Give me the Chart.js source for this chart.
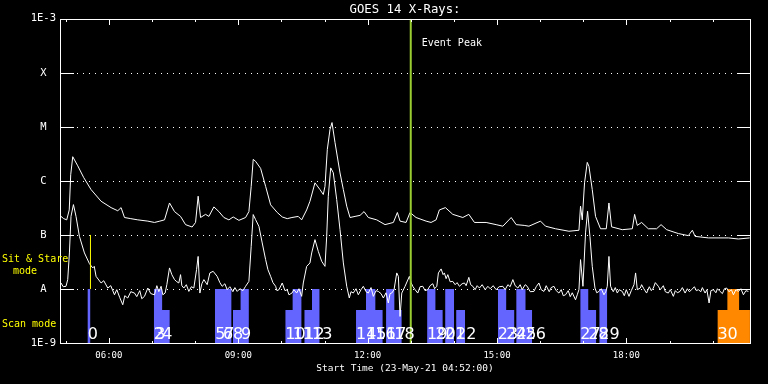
<!DOCTYPE html>
<html><head><meta charset="utf-8">
<script src="https://cdn.jsdelivr.net/npm/chart.js@4.4.1/dist/chart.umd.min.js"></script>
<style>html,body{margin:0;padding:0;background:#000;}canvas{display:block;}</style>
</head><body>
<canvas id="c" width="768" height="384"></canvas>
<script>
// ---------- data (time in decimal hours UT, flux in W/m^2) ----------
const X_START = 4 + 52 / 60;          // 04:52
const X_END = X_START + 16;
const xTickValues = [6, 9, 12, 15, 18];
const xTickLabels = ['06:00', '09:00', '12:00', '15:00', '18:00'];
const xMinorTickValues = [5, 7, 8, 10, 11, 13, 14, 16, 17, 19, 20];
const yTickValues = [1e-9, 1e-8, 1e-7, 1e-6, 1e-5, 1e-4, 1e-3];
const yTickLabels = ['1E-9', 'A', 'B', 'C', 'M', 'X', '1E-3'];

const eventPeakTime = 13.0;
const eventPeakLabel = 'Event Peak';
const sitStareTime = 5.573;
const sitStareRange = [1e-8, 1e-7];

// long channel (upper curve)
const longChannel = [
 [4.890,2.2e-7],[4.953,2.0e-7],[5.023,1.9e-7],[5.081,2.9e-7],[5.115,1.3e-6],[5.162,2.8e-6],[5.278,1.9e-6],[5.417,1.15e-6],[5.587,6.9e-7],[5.819,4.2e-7],
 [6.051,3.2e-7],[6.206,2.8e-7],[6.283,3.2e-7],[6.362,2.1e-7],[6.508,2.0e-7],[6.671,1.9e-7],[6.903,1.8e-7],[7.058,1.7e-7],[7.181,1.8e-7],[7.290,1.9e-7],
 [7.406,3.9e-7],[7.522,2.7e-7],[7.662,2.2e-7],[7.778,1.55e-7],[7.931,1.4e-7],[8.010,1.7e-7],[8.070,5.2e-7],[8.126,2.1e-7],[8.242,2.4e-7],[8.319,2.2e-7],
 [8.435,3.3e-7],[8.551,2.7e-7],[8.667,2.1e-7],[8.783,1.9e-7],[8.883,2.15e-7],[9.015,1.86e-7],[9.170,2.1e-7],[9.247,2.7e-7],[9.300,7.9e-7],[9.347,2.5e-6],
 [9.402,2.3e-6],[9.519,1.7e-6],[9.635,7.9e-7],[9.751,3.6e-7],[9.904,2.6e-7],[10.020,2.15e-7],[10.136,2.0e-7],[10.245,2.1e-7],[10.391,2.2e-7],[10.470,1.9e-7],
 [10.586,2.9e-7],[10.663,4.2e-7],[10.779,9.2e-7],[10.895,6.9e-7],[10.972,5.6e-7],[11.011,7.9e-7],[11.065,3.8e-6],[11.127,8.9e-6],[11.174,1.2e-5],[11.244,5.1e-6],
 [11.360,1.4e-6],[11.437,6.9e-7],[11.515,3.4e-7],[11.592,2.1e-7],[11.708,2.2e-7],[11.824,2.3e-7],[11.917,2.7e-7],[12.016,2.1e-7],[12.211,1.9e-7],[12.404,1.55e-7],
 [12.597,1.7e-7],[12.690,2.6e-7],[12.752,1.8e-7],[12.891,1.7e-7],[12.984,2.6e-7],[13.123,2.1e-7],[13.356,1.8e-7],[13.471,1.7e-7],[13.588,1.9e-7],[13.664,2.9e-7],
 [13.804,3.2e-7],[13.975,2.4e-7],[14.207,2.1e-7],[14.347,2.4e-7],[14.477,1.7e-7],[14.748,1.7e-7],[14.980,1.55e-7],[15.136,1.45e-7],[15.329,2.1e-7],[15.445,1.55e-7],
 [15.630,1.5e-7],[15.740,1.45e-7],[16.009,1.8e-7],[16.125,1.45e-7],[16.357,1.3e-7],[16.668,1.17e-7],[16.900,1.22e-7],[16.937,3.4e-7],[16.977,1.9e-7],[17.030,9.2e-7],
 [17.093,2.2e-6],[17.132,1.86e-6],[17.209,6.9e-7],[17.285,2.2e-7],[17.401,1.3e-7],[17.534,1.3e-7],[17.596,3.9e-7],[17.657,1.41e-7],[17.905,1.25e-7],[18.137,1.3e-7],
 [18.191,2.4e-7],[18.253,1.5e-7],[18.353,1.7e-7],[18.509,1.3e-7],[18.701,1.3e-7],[18.804,1.55e-7],[18.934,1.25e-7],[19.205,1.06e-7],[19.437,9.7e-8],[19.530,1.22e-7],
 [19.593,9.4e-8],[19.901,8.8e-8],[20.366,8.8e-8],[20.598,8.4e-8],[20.860,8.8e-8]
];

// short channel (lower curve)
const shortChannel = [
 [4.890,1.29e-8],[4.941,1.1e-8],[5.006,1.12e-8],[5.046,1.49e-8],[5.085,4.64e-8],[5.122,2.21e-7],[5.178,3.64e-7],[5.238,2.21e-7],[5.317,9.4e-8],[5.433,4.64e-8],
 [5.549,2.94e-8],[5.626,2.45e-8],[5.661,2.62e-8],[5.703,1.71e-8],[5.819,1.29e-8],[5.881,1.42e-8],[5.974,1.04e-8],[6.044,1.15e-8],[6.130,7.8e-9],[6.183,9.7e-9],
 [6.253,6.9e-9],[6.322,5.1e-9],[6.369,7.5e-9],[6.438,6.8e-9],[6.508,8.9e-9],[6.594,8.4e-9],[6.647,7.2e-9],[6.717,9.3e-9],[6.763,6.6e-9],[6.826,7.3e-9],
 [6.903,1.04e-8],[6.972,8.2e-9],[7.058,7.8e-9],[7.112,1.15e-8],[7.158,8.9e-9],[7.211,1.12e-8],[7.251,7.8e-9],[7.304,8.4e-9],[7.344,1.2e-8],[7.406,2.45e-8],
 [7.460,1.84e-8],[7.522,1.49e-8],[7.576,1.36e-8],[7.622,1.29e-8],[7.662,1.84e-8],[7.692,1.15e-8],[7.738,1.04e-8],[7.796,1.2e-8],[7.854,9.0e-9],[7.912,1.1e-8],
 [7.970,1.04e-8],[8.033,2.28e-8],[8.070,4.0e-8],[8.110,8.4e-9],[8.156,1.25e-8],[8.203,1.49e-8],[8.279,1.2e-8],[8.342,1.98e-8],[8.418,2.12e-8],[8.511,1.71e-8],
 [8.574,1.31e-8],[8.627,1.12e-8],[8.690,1.25e-8],[8.743,9.7e-9],[8.806,1.1e-8],[8.876,8.9e-9],[8.922,1.06e-8],[8.975,9.0e-9],[9.038,1.01e-8],[9.108,9.3e-9],
 [9.170,1.12e-8],[9.247,1.38e-8],[9.300,6.15e-8],[9.347,2.38e-7],[9.402,1.92e-7],[9.479,1.44e-7],[9.556,7.1e-8],[9.635,3.49e-8],[9.688,2.28e-8],[9.751,1.71e-8],
 [9.804,1.31e-8],[9.867,1.12e-8],[9.897,9.3e-9],[9.944,9.7e-9],[10.020,1.29e-8],[10.083,9.3e-9],[10.136,9.7e-9],[10.175,7.8e-9],[10.245,8.4e-9],[10.291,9.7e-9],
 [10.354,8.4e-9],[10.408,1.01e-8],[10.470,7.3e-9],[10.508,1.29e-8],[10.586,2.62e-8],[10.663,3.03e-8],[10.703,4.64e-8],[10.779,8.18e-8],[10.856,4.97e-8],[10.935,3.25e-8],
 [11.011,2.62e-8],[11.051,9.4e-8],[11.088,5.19e-7],[11.144,1.74e-6],[11.204,1.41e-6],[11.283,4.5e-7],[11.360,1.25e-7],[11.437,3.03e-8],[11.515,1.12e-8],[11.575,6.8e-9],
 [11.615,8.9e-9],[11.668,8.4e-9],[11.731,1.01e-8],[11.784,7.8e-9],[11.847,9.7e-9],[11.900,1.12e-8],[11.963,8.9e-9],[12.016,8.4e-9],[12.079,1.06e-8],[12.132,7.3e-9],
 [12.195,9.3e-9],[12.248,9.0e-9],[12.311,8.2e-9],[12.365,6.8e-9],[12.427,8.5e-9],[12.480,5.5e-9],[12.520,8.2e-9],[12.559,8.4e-9],[12.613,9.7e-9],[12.675,1.98e-8],
 [12.713,1.71e-8],[12.752,3.1e-9],[12.792,8.4e-9],[12.868,1.12e-8],[12.968,1.71e-8],[13.008,1.31e-8],[13.047,1.12e-8],[13.100,9.7e-9],[13.163,8.4e-9],[13.216,1.1e-8],
 [13.279,1.12e-8],[13.332,9.3e-9],[13.395,9.7e-9],[13.448,1.15e-8],[13.511,1.25e-8],[13.553,1.01e-8],[13.604,1.12e-8],[13.641,1.98e-8],[13.704,2.35e-8],[13.750,1.84e-8],
 [13.780,1.98e-8],[13.820,1.55e-8],[13.859,1.84e-8],[13.913,1.36e-8],[13.975,1.38e-8],[14.029,1.2e-8],[14.075,1.31e-8],[14.129,1.12e-8],[14.191,1.25e-8],[14.245,1.29e-8],
 [14.284,1.15e-8],[14.347,1.64e-8],[14.389,1.2e-8],[14.440,1.12e-8],[14.493,9.7e-9],[14.540,1.15e-8],[14.593,1.04e-8],[14.656,1.2e-8],[14.725,9.7e-9],[14.788,1.12e-8],
 [14.842,1.01e-8],[14.911,1.15e-8],[14.980,9.7e-9],[15.050,1.1e-8],[15.136,1.12e-8],[15.189,9.7e-9],[15.252,1.2e-8],[15.305,1.1e-8],[15.368,1.49e-8],[15.421,1.15e-8],
 [15.484,1.04e-8],[15.537,1.2e-8],[15.584,9.7e-9],[15.654,1.2e-8],[15.700,1.12e-8],[15.770,8.9e-9],[15.856,9.0e-9],[15.909,1.1e-8],[15.972,1.29e-8],[16.025,9.7e-9],
 [16.088,9.0e-9],[16.141,1.15e-8],[16.211,8.9e-9],[16.257,1.06e-8],[16.320,1.12e-8],[16.373,9.3e-9],[16.436,8.4e-9],[16.489,9.7e-9],[16.536,7.5e-9],[16.589,7.8e-9],
 [16.652,9.3e-9],[16.698,7.2e-9],[16.745,8.5e-9],[16.821,6.3e-9],[16.861,7.8e-9],[16.900,9.7e-9],[16.937,3.49e-8],[16.993,1.12e-8],[17.053,1.09e-7],[17.100,2.74e-7],
 [17.155,9.4e-8],[17.209,2.62e-8],[17.272,1.04e-8],[17.313,8.5e-9],[17.364,9.0e-9],[17.418,1.01e-8],[17.480,7.8e-9],[17.522,8.9e-9],[17.557,1.12e-8],[17.596,4.0e-8],
 [17.634,1.12e-8],[17.696,8.9e-9],[17.743,1.06e-8],[17.789,8.4e-9],[17.836,9.7e-9],[17.905,9.0e-9],[17.952,7.5e-9],[17.998,9.7e-9],[18.061,7.3e-9],[18.114,9.3e-9],
 [18.177,1.2e-8],[18.214,1.98e-8],[18.253,9.7e-9],[18.323,1.04e-8],[18.353,1.2e-8],[18.404,1.01e-8],[18.469,8.4e-9],[18.532,1.1e-8],[18.578,9.3e-9],[18.625,1.04e-8],
 [18.671,1.31e-8],[18.741,1.12e-8],[18.787,9.7e-9],[18.857,1.15e-8],[18.903,8.9e-9],[18.973,8.4e-9],[19.019,9.7e-9],[19.089,7.3e-9],[19.135,9.3e-9],[19.182,8.5e-9],
 [19.244,9.0e-9],[19.298,1.06e-8],[19.361,8.4e-9],[19.414,1.01e-8],[19.460,8.9e-9],[19.514,9.7e-9],[19.577,1.1e-8],[19.623,9.3e-9],[19.669,9.7e-9],[19.727,8.9e-9],
 [19.762,1.06e-8],[19.825,8.4e-9],[19.867,9.7e-9],[19.918,5.5e-9],[19.960,9.3e-9],[20.018,9.7e-9],[20.076,8.5e-9],[20.111,1.01e-8],[20.173,9.0e-9],[20.227,8.2e-9],
 [20.273,1.01e-8],[20.326,1.04e-8],[20.378,8.9e-9],[20.435,9.7e-9],[20.482,7.8e-9],[20.540,9.7e-9],[20.598,9.0e-9],[20.656,1.01e-8],[20.714,7.8e-9],[20.772,9.3e-9],
 [20.830,9.0e-9]
];

// scan-mode blocks: [start, end, level]
const scanBlue = [
 [5.503,5.573,1e-8],
 [7.042,7.235,1e-8],[7.235,7.413,4.1e-9],
 [8.458,8.846,1e-8],
 [8.876,9.054,4.1e-9],[9.054,9.247,1e-8],
 [10.090,10.261,4.1e-9],[10.261,10.470,1e-8],
 [10.531,10.710,4.1e-9],[10.710,10.888,1e-8],
 [11.731,11.963,4.1e-9],[11.963,12.179,1e-8],[12.179,12.351,4.1e-9],
 [12.427,12.620,1e-8],[12.620,12.792,4.1e-9],
 [13.379,13.572,1e-8],[13.572,13.743,4.1e-9],
 [13.797,14.006,1e-8],
 [14.052,14.261,4.1e-9],
 [15.020,15.213,1e-8],[15.213,15.405,4.1e-9],
 [15.445,15.661,1e-8],[15.661,15.816,4.1e-9],
 [16.930,17.116,1e-8],[17.116,17.302,4.1e-9],
 [17.371,17.557,1e-8]
];
const scanOrange = [
 [20.111,20.342,4.1e-9],[20.342,20.614,1e-8],[20.614,20.866,4.1e-9]
];
const scanLabels = [
 [5.510,'0'],[7.042,'2'],[7.077,'3'],[7.235,'4'],
 [8.465,'5'],[8.644,'6'],[8.678,'7'],[8.876,'8'],[9.061,'9'],
 [10.090,'10'],[10.261,'11'],[10.531,'12'],[10.710,'13'],
 [11.731,'14'],[11.963,'15'],[12.179,'16'],[12.427,'17'],[12.620,'18'],
 [13.379,'19'],[13.572,'20'],[13.797,'21'],[14.052,'22'],
 [15.020,'23'],[15.213,'24'],[15.445,'25'],[15.661,'26'],
 [16.930,'27'],[17.116,'28'],[17.371,'29'],
 [20.111,'30']
];

// ---------- helpers ----------
const MONO = '"DejaVu Sans Mono", monospace';
const toPts = arr => arr.map(([x, y]) => ({x, y}));
function stepPoints(blocks) {
  const pts = [];
  blocks.forEach(([s, e, v], i) => {
    pts.push({x: s, y: v});
    const next = blocks[i + 1];
    if (!next || Math.abs(next[0] - e) > 1e-6) {
      pts.push({x: e, y: v});
      pts.push({x: e, y: null});
    }
  });
  return pts;
}

const decor = {
  id: 'decor',
  beforeDraw(chart) {
    const c = chart.ctx;
    c.save(); c.fillStyle = '#000'; c.fillRect(0, 0, chart.width, chart.height); c.restore();
  },
  beforeDatasetsDraw(chart) {
    const c = chart.ctx, a = chart.chartArea, ys = chart.scales.y;
    c.save(); c.fillStyle = '#fff';
    yTickValues.slice(1, -1).forEach(v => {
      const py = Math.round(ys.getPixelForValue(v));
      for (let px = Math.round(a.left) + 17; px < a.right - 14; px += 6) c.fillRect(px, py, 1, 1);
    });
    c.restore();
  },
  afterDatasetsDraw(chart) {
    const c = chart.ctx, a = chart.chartArea, xs = chart.scales.x, ys = chart.scales.y;
    const L = Math.round(a.left), R = Math.round(a.right), T = Math.round(a.top), B = Math.round(a.bottom);
    c.save();
    c.fillStyle = '#fff';
    c.fillRect(L, T, R - L + 1, 1); c.fillRect(L, B, R - L + 1, 1);
    c.fillRect(L, T, 1, B - T + 1); c.fillRect(R, T, 1, B - T + 1);
    const xt = (v, len) => {
      const px = Math.round(xs.getPixelForValue(v));
      c.fillRect(px, T, 1, len); c.fillRect(px, B - len + 1, 1, len);
    };
    xTickValues.forEach(v => xt(v, 6));
    xMinorTickValues.forEach(v => xt(v, 3));
    yTickValues.forEach(v => {
      const py = Math.round(ys.getPixelForValue(v));
      c.fillRect(L, py, 14, 1); c.fillRect(R - 13, py, 14, 1);
    });
    // scan numbers
    c.font = '16px "DejaVu Sans"'; c.textAlign = 'left'; c.textBaseline = 'alphabetic';
    scanLabels.forEach(([t, s]) => c.fillText(s, xs.getPixelForValue(t), B - 4));
    // event peak label
    c.font = '10px ' + MONO; c.textBaseline = 'middle';
    c.fillText(eventPeakLabel, xs.getPixelForValue(eventPeakTime) + 11, T + 24);
    // mode labels
    const yA = ys.getPixelForValue(1e-8), yB = ys.getPixelForValue(1e-7);
    c.fillStyle = '#ffff00';
    c.fillText('Sit & Stare', 2, yB + 24);
    c.fillText('mode', 13, yB + 36);
    c.fillText('Scan mode', 2, yA + 35);
    c.restore();
  }
};

Chart.defaults.font.family = MONO;
Chart.defaults.color = '#fff';

new Chart(document.getElementById('c'), {
  type: 'line',
  data: {
    datasets: [
      { label: 'Event Peak', data: [{x: eventPeakTime, y: 1e-9}, {x: eventPeakTime, y: 1e-3}],
        borderColor: '#9acd32', borderWidth: 2, pointRadius: 0, fill: false },
      { label: 'Sit & Stare', data: [{x: sitStareTime, y: sitStareRange[0]}, {x: sitStareTime, y: sitStareRange[1]}],
        borderColor: '#ffff00', borderWidth: 1, pointRadius: 0, fill: false },
      { label: '1.0-8.0 A', data: toPts(longChannel), borderColor: '#ffffff', borderWidth: 1, pointRadius: 0, fill: false },
      { label: '0.5-4.0 A', data: toPts(shortChannel), borderColor: '#ffffff', borderWidth: 1, pointRadius: 0, fill: false },
      { label: 'Scan mode', data: stepPoints(scanBlue), stepped: true, borderColor: 'rgba(0,0,0,0)', borderWidth: 0,
        backgroundColor: '#6464ff', fill: 'start', pointRadius: 0, spanGaps: false },
      { label: 'Scan mode 2', data: stepPoints(scanOrange), stepped: true, borderColor: 'rgba(0,0,0,0)', borderWidth: 0,
        backgroundColor: '#ff8800', fill: 'start', pointRadius: 0, spanGaps: false }
    ]
  },
  options: {
    responsive: false,
    animation: false,
    events: [],
    layout: { padding: { top: 0, right: 18, left: 0, bottom: 0 } },
    elements: { line: { tension: 0 } },
    plugins: {
      legend: { display: false },
      tooltip: { enabled: false },
      title: { display: true, text: 'GOES 14 X-Rays:', color: '#fff', fullSize: false,
        font: { family: MONO, size: 12.3, weight: 'normal' }, padding: { top: 2, bottom: 2 } }
    },
    scales: {
      x: {
        type: 'linear', position: 'bottom', min: X_START, max: X_END,
        grid: { display: false, drawTicks: false }, border: { display: false },
        afterBuildTicks: s => { s.ticks = xTickValues.map(v => ({ value: v })); },
        afterFit: s => { s.height = 41; },
        ticks: { color: '#fff', font: { family: MONO, size: 9 }, padding: 7, autoSkip: false, maxRotation: 0,
          callback: (v, i) => xTickLabels[i] },
        title: { display: true, text: 'Start Time (23-May-21 04:52:00)', color: '#fff',
          font: { family: MONO, size: 9.5 }, padding: { top: 0, bottom: 10 } }
      },
      y: {
        type: 'logarithmic', position: 'left', min: 1e-9, max: 1e-3,
        grid: { display: false, drawTicks: false }, border: { display: false },
        afterBuildTicks: s => { s.ticks = yTickValues.map(v => ({ value: v })); },
        afterFit: s => { s.width = 60; },
        ticks: { color: '#fff', font: { family: MONO, size: 10.5 }, padding: 4, autoSkip: false,
          crossAlign: 'center', callback: (v, i) => yTickLabels[i] }
      }
    }
  },
  plugins: [decor]
});
</script>
</body></html>
